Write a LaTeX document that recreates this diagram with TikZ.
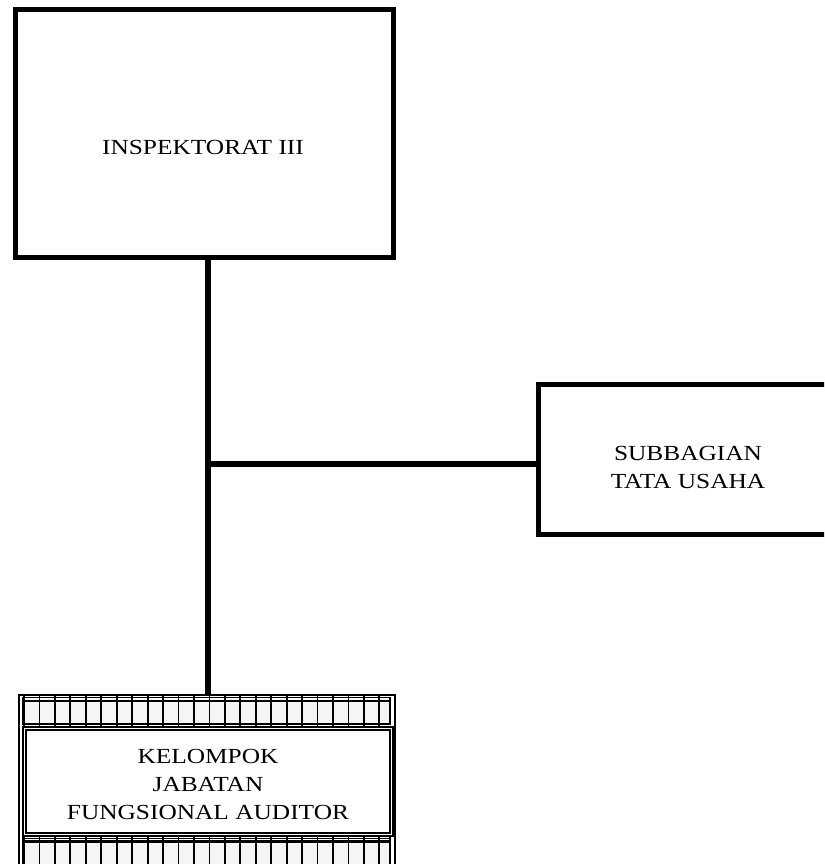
\documentclass[tikz,border=0pt]{standalone}
\usepackage{fontspec}
\setmainfont{Liberation Serif}[FakeStretch=1.18]
\begin{document}
\begin{tikzpicture}[x=1pt,y=-1pt,
  box/.style={draw,line width=5pt,inner sep=0pt},
  conn/.style={line width=6pt},
  lbl/.style={align=center,inner sep=0pt,font=\fontsize{21.5}{28}\selectfont},
  strip/.style={line width=2pt},
  tick/.style={line width=1.8pt}]
\useasboundingbox (0,0) rectangle (824,864);
\clip (0,0) rectangle (824,864);
% top box
\node[box,minimum width=378pt,minimum height=248pt] (insp) at (204.5,133.5) {};
\node[lbl] (insptxt) at (203,147) {INSPEKTORAT III};
% right box
\node[box,minimum width=300pt,minimum height=150pt] (tu) at (688,459) {};
\node[lbl] (tutxt) at (688,467) {SUBBAGIAN\\TATA USAHA};
% bottom group outer frame
\node[draw,line width=2pt,minimum width=376.5pt,minimum height=200pt,inner sep=0pt] (kjfa) at (206.75,794.5) {};
% top strip
\fill[gray!8] (24,702) rectangle (390,723);
\draw[line width=1pt] (22.5,697.5) -- (390.5,697.5);
\draw[line width=2.6pt] (23,701) -- (390,701);
\draw[line width=2.4pt] (23,724) -- (390,724);
\draw[strip] (23,697) -- (23,725);
\draw[strip] (390,697) -- (390,725);
\foreach \k in {0,...,23}{
  \draw[tick] (24+15.45*\k,696) -- (24+15.45*\k,726);
}
% inner double box
\node[draw,double,line width=1.5pt,double distance=1.5pt,minimum width=367pt,minimum height=106pt,inner sep=0pt] (kjin) at (208,781.5) {};
\node[lbl] (kjtxt) at (208,784) {KELOMPOK\\JABATAN\\FUNGSIONAL AUDITOR};
% bottom strip
\fill[gray!8] (24,843) rectangle (390,870);
\draw[line width=1pt] (22.5,838) -- (390.5,838);
\draw[line width=2.6pt] (23,841.5) -- (390,841.5);
\draw[strip] (23,837) -- (23,870);
\draw[strip] (390,837) -- (390,870);
\foreach \k in {0,...,23}{
  \draw[tick] (24+15.45*\k,837) -- (24+15.45*\k,870);
}
% connectors
\coordinate (j) at (208,464);
\draw[conn] (insp.south -| j) -- (kjfa.north -| j);
\draw[conn] (j) -- (tu.west |- j);
\end{tikzpicture}
\end{document}
